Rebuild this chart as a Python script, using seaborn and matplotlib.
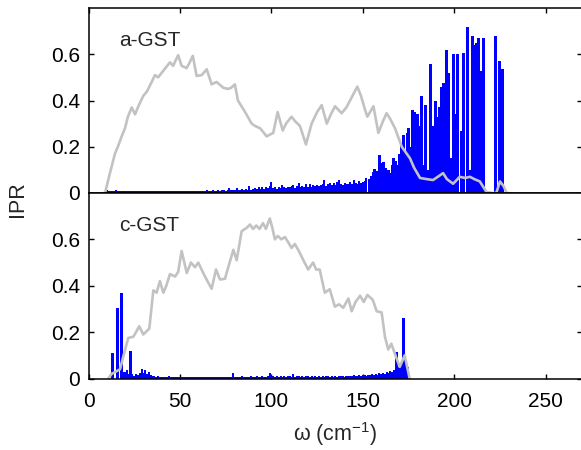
import numpy as np
import pandas as pd
import matplotlib
matplotlib.use("Agg")
import matplotlib.pyplot as plt
import seaborn as sns

# ---------------- data ----------------
# vibrational density of states (scaled), amorphous
a_dos_w = [8, 9, 11.7, 14.4, 16, 18.1, 19.9, 21.5, 23.6, 25.4, 27.5, 29.9, 32, 34.5,
           36.3, 38, 40, 42, 44.5, 46.2, 49, 50.9, 53.6, 55, 57, 59.1, 61.9, 64.6,
           67.3, 70, 73.7, 76.3, 78, 80, 81.7, 85.6, 89.2, 91, 93.8, 97.4, 101,
           103.4, 106.2, 108, 111, 113, 115.6, 118.9, 122, 125, 127.5, 130.3, 132.5,
           134.8, 138.4, 141, 143, 147, 149, 151.2, 152.5, 155.8, 158.5, 161, 163,
           165, 167.6, 171.3, 175.8, 178, 181.3, 185, 188.4, 191, 193.9, 196, 199.4,
           203, 206, 208.6, 211, 214, 217.6, 221, 223, 225, 227, 228.7, 230]
a_dos = [0, 0, 0.087, 0.17, 0.2, 0.245, 0.28, 0.33, 0.37, 0.34, 0.38, 0.42, 0.44, 0.48,
         0.51, 0.50, 0.52, 0.54, 0.565, 0.55, 0.596, 0.55, 0.54, 0.56, 0.593, 0.506,
         0.51, 0.535, 0.47, 0.48, 0.455, 0.45, 0.455, 0.47, 0.40, 0.35, 0.30, 0.29,
         0.28, 0.245, 0.26, 0.35, 0.27, 0.30, 0.33, 0.31, 0.29, 0.21, 0.30, 0.35, 0.38,
         0.30, 0.34, 0.375, 0.345, 0.37, 0.40, 0.46, 0.42, 0.36, 0.33, 0.375, 0.26,
         0.31, 0.345, 0.32, 0.28, 0.20, 0.15, 0.11, 0.065, 0.06, 0.056, 0.07, 0.086,
         0.06, 0.04, 0.07, 0.065, 0.07, 0.06, 0.05, 0.005, 0.0, 0.0, 0.05, 0.03, 0.0, 0]

# vibrational density of states (scaled), crystalline
c_dos_w = [10.8, 12.6, 15, 17.2, 19, 21.7, 24.5, 27.7, 29.9, 33.2, 35.4, 37.2, 39, 40.9,
           42.5, 44.5, 47.3, 49, 50.9, 53.7, 56, 58.2, 60, 62.7, 65, 67.3, 69.7, 71.9,
           74.6, 76.4, 79.2, 81, 83.7, 86.5, 88.3, 90, 91.7, 93.5, 95.4, 97, 99.1,
           100.5, 101.9, 103.5, 105.4, 107.4, 109, 111, 112.8, 115, 117.3, 120.1,
           122.8, 124.5, 126.4, 129.2, 131.9, 134.7, 137, 139.3, 142.1, 143.9, 146,
           148.5, 150.5, 152.5, 155.4, 157.6, 160.3, 162.1, 163.9, 165.6, 168.3,
           170.2, 172.9, 175.6]
c_dos = [0, 0.02, 0.03, 0.04, 0.096, 0.175, 0.18, 0.225, 0.19, 0.215, 0.38, 0.37, 0.42,
         0.37, 0.40, 0.45, 0.44, 0.46, 0.55, 0.455, 0.50, 0.48, 0.50, 0.455, 0.42,
         0.387, 0.47, 0.427, 0.43, 0.48, 0.555, 0.51, 0.635, 0.65, 0.664, 0.645, 0.66,
         0.645, 0.67, 0.645, 0.69, 0.65, 0.60, 0.615, 0.60, 0.61, 0.59, 0.563, 0.58,
         0.55, 0.513, 0.47, 0.50, 0.47, 0.47, 0.37, 0.385, 0.31, 0.32, 0.305, 0.345,
         0.29, 0.33, 0.357, 0.33, 0.36, 0.34, 0.29, 0.285, 0.18, 0.125, 0.15, 0.09,
         0.05, 0.1, 0]

# IPR of the extended modes, a-GST, 1 cm-1 spacing from 10 cm-1 (units of 1e-3)
a_ipr_low_start = 10
a_ipr_low = [12, 8, 10, 9, 7, 11, 8, 9, 10, 7,
             8, 9, 7, 10, 8, 9, 8, 7, 9, 8,
             7, 9, 8, 10, 7, 8, 9, 7, 8, 9,
             8, 7, 9, 8, 10, 7, 8, 9, 8, 7,
             9, 8, 10, 7, 9, 8, 7, 9, 8, 10,
             8, 9, 7, 10, 8, 11, 9, 8, 12, 9,
             10, 12, 9, 11, 13, 10, 12, 22, 11, 14,
             13, 20, 12, 15, 18, 13, 16, 14, 30, 15,
             18, 22, 16, 25, 19, 28, 17, 24, 20, 30,
             46, 22, 26, 19, 28, 21, 33, 25, 22, 27,
             24, 29, 35, 23, 30, 45, 26, 32, 24, 38,
             28, 40, 27, 33, 30, 36, 29, 34, 40, 56,
             31, 38, 45, 33, 42, 36, 48, 56, 39, 34,
             44, 38, 41, 46, 40, 55, 43, 37, 50, 45,
             48, 52, 64]

# IPR of the high-frequency (localized) modes, a-GST
a_ipr_w = [153.5, 154.3, 155.3, 156, 156.7, 157.4, 158, 158.7, 159.4, 160, 160.7, 161.3,
           162, 162.6, 163.3, 164, 164.6, 165.3, 166, 166.5, 167.1, 167.7, 168.5, 169.2,
           169.8, 170.7, 171.5, 172.2, 173, 174, 174.9, 175.5, 176.2, 177.1, 178.2,
           179.5, 180.3, 181, 181.8, 183, 184, 185, 186.6, 187.5, 188.6, 189.5, 190.5,
           191.5, 192.5, 193.2, 194, 195.3, 196.8, 198, 199.2, 200, 201.4, 203.7,
           204.6, 206.8, 208, 209.6, 210.4, 211.9, 213.2, 214.7, 215.6, 222.2, 224.7,
           226.2]
a_ipr = [0.06, 0.075, 0.09, 0.105, 0.08, 0.07, 0.095, 0.165, 0.13, 0.12, 0.1, 0.136,
         0.11, 0.085, 0.09, 0.1, 0.07, 0.085, 0.12, 0.15, 0.09, 0.14, 0.1, 0.12,
         0.17, 0.215, 0.14, 0.25, 0.18, 0.26, 0.28, 0.2, 0.16, 0.36, 0.35,
         0.34, 0.15, 0.29, 0.42, 0.12, 0.38, 0.1, 0.556, 0.1, 0.29, 0.40, 0.33,
         0.37, 0.46, 0.2, 0.477, 0.62, 0.517, 0.15, 0.60, 0.34, 0.60, 0.27,
         0.607, 0.72, 0.1, 0.68, 0.64, 0.65, 0.67, 0.527, 0.67, 0.677, 0.57,
         0.535]

# IPR, c-GST, 1 cm-1 spacing from 18 cm-1 (units of 1e-3)
c_ipr_low_start = 18
c_ipr_low = [25, 30, 28, 35, 20, 15, 18, 12, 20, 15,
             22, 43, 25, 35, 18, 30, 15, 12, 10, 8,
             9, 7, 8, 6, 8, 7, 9, 6, 7, 8,
             6, 7, 8, 6, 7, 5, 6, 7, 5, 6,
             7, 5, 6, 7, 5, 6, 8, 5, 6, 7,
             5, 6, 7, 6, 5, 7, 6, 5, 8, 6,
             7, 25, 6, 8, 7, 6, 9, 7, 8, 6,
             7, 9, 8, 6, 10, 7, 8, 9, 7, 8,
             9, 25, 8, 10, 7, 9, 8, 11, 7, 9,
             8, 10, 9, 7, 20, 8, 10, 9, 7, 11,
             8, 9, 10, 7, 9, 8, 11, 7, 9, 8,
             10, 7, 9, 11, 8, 10, 7, 9, 8, 10,
             9, 11, 8, 10, 12, 9, 11, 13, 10, 12,
             14, 11, 13, 15, 12, 16, 14, 18, 15, 20,
             17, 22, 19, 25, 21, 28, 24, 32, 30, 38]

# IPR of the isolated strong modes, c-GST
c_ipr_w = [12.6, 15.4, 17.7, 22.4, 168.2, 169.3, 170.2, 171.2, 172.2, 173, 174]
c_ipr = [0.11, 0.305, 0.37, 0.118, 0.115, 0.05, 0.06, 0.04, 0.26, 0.07, 0.05]

panel_names = ["a-GST", "c-GST"]
y_ticks = [0, 0.2, 0.4, 0.6]
y_tick_labels = ["0", "0.2", "0.4", "0.6"]
x_ticks = [0, 50, 100, 150, 200, 250]

# ---------------- figure ----------------
sns.set_theme(style="ticks")
plt.rcParams["font.family"] = ["Liberation Sans", "DejaVu Sans"]
plt.rcParams["mathtext.default"] = "regular"

W, H = 581, 450
fig = plt.figure(figsize=(W / 100, H / 100), dpi=100)
left_px, right_px = 88.6, 582.2
ax_top = fig.add_axes([left_px / W, 1 - 193 / H, (right_px - left_px) / W, 185 / H])
ax_bot = fig.add_axes([left_px / W, 1 - 378.5 / H, (right_px - left_px) / W, 185.5 / H])

blue = "#0000ff"
gray = "#c2c2c2"

low_sets = [(a_ipr_low_start, a_ipr_low), (c_ipr_low_start, c_ipr_low)]
peak_sets = [(a_ipr_w, a_ipr), (c_ipr_w, c_ipr)]
dos_frames = [pd.DataFrame({"w": a_dos_w, "dos": a_dos}),
              pd.DataFrame({"w": c_dos_w, "dos": c_dos})]

for ax, name, (start, low), (pw, pv), dos_df in zip(
        [ax_top, ax_bot], panel_names, low_sets, peak_sets, dos_frames):
    low_w = [start + i for i in range(len(low))]
    low_v = [h / 1000 for h in low]
    # dense band of weakly localized modes
    ax.vlines(low_w, 0, low_v, color=blue, linewidth=1.4, antialiased=False, zorder=2)
    # individual strongly localized modes
    ax.vlines(pw, 0, pv, color=blue, linewidth=0.85, antialiased=False, zorder=2)
    sns.lineplot(data=dos_df, x="w", y="dos", ax=ax, color=gray, linewidth=1.9,
                 estimator=None, sort=False, zorder=3)
    ax.set_xlim(0, 270)
    ax.set_ylim(0, 0.8)
    ax.set_xticks(x_ticks)
    ax.set_yticks(y_ticks)
    ax.set_yticklabels(y_tick_labels)
    ax.set_xlabel("")
    ax.set_ylabel("")
    for s in ax.spines.values():
        s.set_linewidth(1.1)
        s.set_color("black")
        s.set_zorder(4)
    ax.tick_params(axis="both", direction="in", length=3.8, width=1.0,
                   labelsize=15, colors="black", pad=6)
    ax.tick_params(axis="y", left=True, right=True, labelleft=True, labelright=False)
    ax.text(16.6, 0.635, name, fontsize=15, ha="left", va="baseline")

ax_top.tick_params(axis="x", top=True, bottom=False, labeltop=False, labelbottom=False)
ax_bot.tick_params(axis="x", top=False, bottom=True, labelbottom=True, pad=10)

fig.text(17.5 / W, 1 - 199 / H, "IPR", fontsize=15.5, rotation=90, ha="center", va="center")
ax_bot.set_xlabel("ω (cm$^{-1}$)", fontsize=15.5, labelpad=6)

fig.savefig("out.png", dpi=100)
